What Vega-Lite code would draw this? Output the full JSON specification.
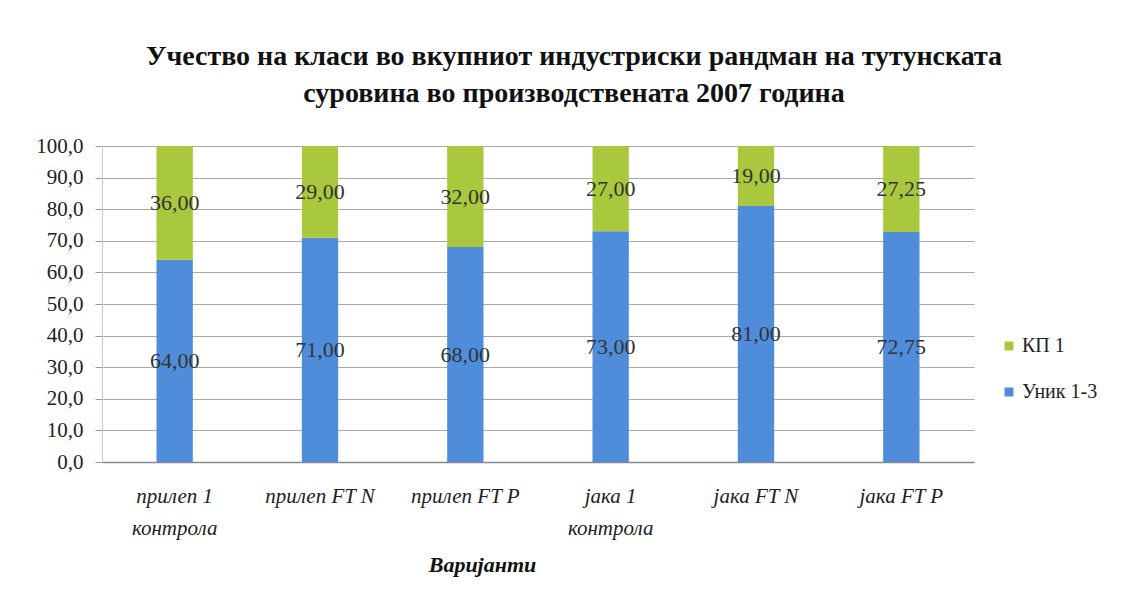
{
  "$schema": "https://vega.github.io/schema/vega-lite/v6.json",
  "width": 872,
  "height": 316,
  "autosize": "none",
  "padding": {"left": 102, "top": 146, "right": 161, "bottom": 150},
  "background": "white",
  "title": {
    "text": ["Учество на класи во вкупниот индустриски рандман на тутунската", "суровина во производствената 2007 година"],
    "anchor": "middle",
    "font": "Liberation Serif, Times New Roman, serif",
    "fontSize": 28,
    "fontWeight": "bold",
    "color": "#111111",
    "lineHeight": 37,
    "offset": 27,
    "dx": 36
  },
  "config": {
    "locale": {"number": {"decimal": ",", "thousands": ".", "grouping": [3], "currency": ["", ""]}},
    "view": {"stroke": null}
  },
  "data": {
    "values": [
      {"variant": "прилеп 1 контрола", "class": "Уник 1-3", "value": 64.00},
      {"variant": "прилеп 1 контрола", "class": "КП 1", "value": 36.00},
      {"variant": "прилеп FT N", "class": "Уник 1-3", "value": 71.00},
      {"variant": "прилеп FT N", "class": "КП 1", "value": 29.00},
      {"variant": "прилеп FT P", "class": "Уник 1-3", "value": 68.00},
      {"variant": "прилеп FT P", "class": "КП 1", "value": 32.00},
      {"variant": "јака 1 контрола", "class": "Уник 1-3", "value": 73.00},
      {"variant": "јака 1 контрола", "class": "КП 1", "value": 27.00},
      {"variant": "јака FT N", "class": "Уник 1-3", "value": 81.00},
      {"variant": "јака FT N", "class": "КП 1", "value": 19.00},
      {"variant": "јака FT P", "class": "Уник 1-3", "value": 72.75},
      {"variant": "јака FT P", "class": "КП 1", "value": 27.25}
    ]
  },
  "transform": [
    {"stack": "value", "groupby": ["variant"], "sort": [{"field": "class", "order": "descending"}], "as": ["v0", "v1"]},
    {"calculate": "(datum.v0 + datum.v1) / 2", "as": "mid"}
  ],
  "encoding": {
    "x": {
      "field": "variant",
      "type": "nominal",
      "sort": null,
      "scale": {"paddingInner": 0.75, "paddingOuter": 0.375},
      "axis": {
        "title": "Варијанти",
        "titleFont": "Liberation Serif, Times New Roman, serif",
        "titleFontSize": 22,
        "titleFontStyle": "italic",
        "titleFontWeight": "bold",
        "titleColor": "#111111",
        "titleX": 380,
        "titlePadding": 16,
        "labelFont": "Liberation Serif, Times New Roman, serif",
        "labelFontSize": 21,
        "labelFontStyle": "italic",
        "labelColor": "#222222",
        "labelAngle": 0,
        "labelPadding": 23,
        "labelLineHeight": 32,
        "labelExpr": "datum.label == 'прилеп 1 контрола' ? ['прилеп 1', 'контрола'] : datum.label == 'јака 1 контрола' ? ['јака 1', 'контрола'] : datum.label",
        "ticks": false,
        "domainColor": "#888888",
        "domainWidth": 1.5
      }
    },
    "y": {
      "type": "quantitative",
      "scale": {"domain": [0, 100]},
      "axis": {
        "title": null,
        "values": [0, 10, 20, 30, 40, 50, 60, 70, 80, 90, 100],
        "labelOverlap": false,
        "format": ".1f",
        "labelFont": "Liberation Serif, Times New Roman, serif",
        "labelFontSize": 21,
        "labelColor": "#222222",
        "labelPadding": 12,
        "tickSize": 7,
        "tickColor": "#999999",
        "domainColor": "#cccccc",
        "gridColor": "#a8a8a8",
        "gridWidth": 1.2
      }
    }
  },
  "layer": [
    {
      "mark": {"type": "bar"},
      "encoding": {
        "y": {"field": "v0"},
        "y2": {"field": "v1"},
        "color": {
          "field": "class",
          "type": "nominal",
          "scale": {"domain": ["КП 1", "Уник 1-3"], "range": ["#a9c83e", "#4f8ddb"]},
          "legend": {
            "title": null,
            "orient": "none",
            "legendX": 897,
            "legendY": 190,
            "symbolType": "square",
            "symbolSize": 80,
            "labelFont": "Liberation Serif, Times New Roman, serif",
            "labelFontSize": 20,
            "labelColor": "#222222",
            "rowPadding": 26,
            "labelOffset": 3
          }
        }
      }
    },
    {
      "mark": {"type": "text", "font": "Liberation Serif, Times New Roman, serif", "fontSize": 22, "color": "#333333"},
      "encoding": {
        "y": {"field": "mid"},
        "text": {"field": "value", "type": "quantitative", "format": ".2f"}
      }
    }
  ]
}
